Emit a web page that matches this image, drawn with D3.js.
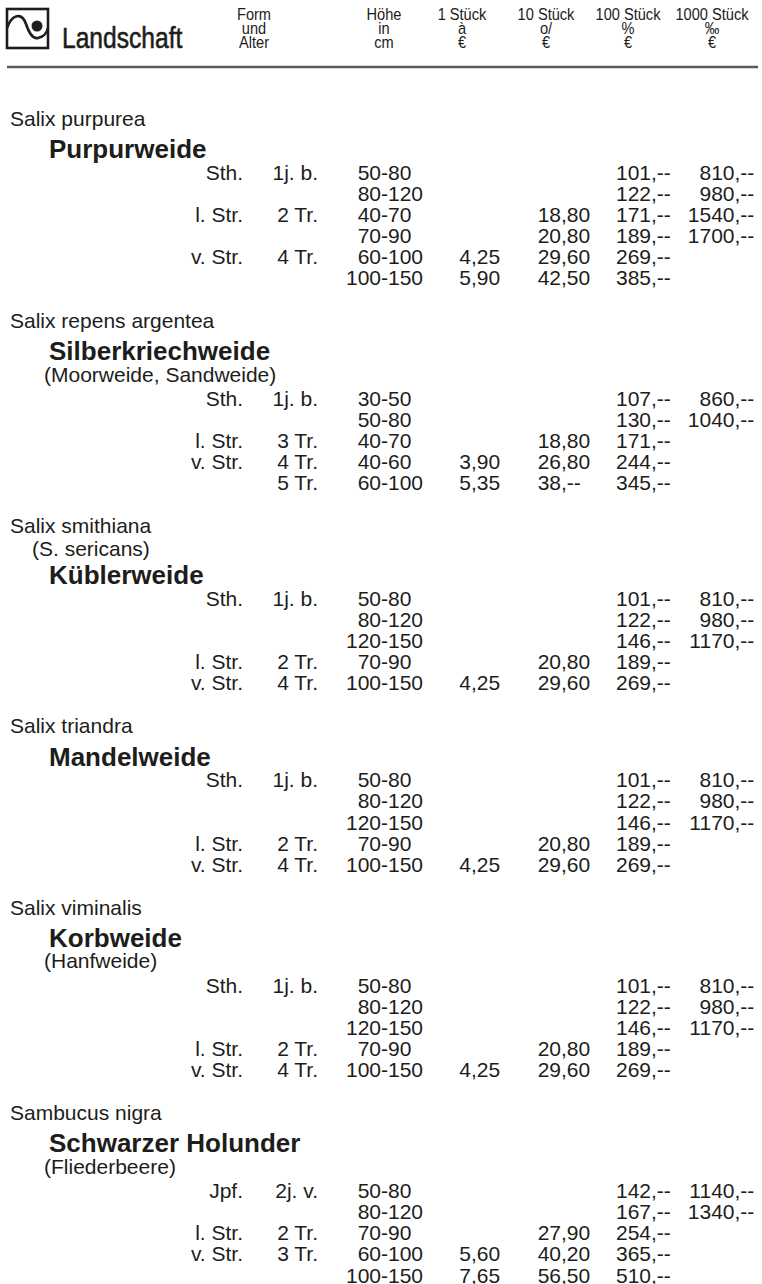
<!DOCTYPE html>
<html>
<head>
<meta charset="utf-8">
<title>Landschaft - Preisliste</title>
<script src="https://cdn.jsdelivr.net/npm/d3@7"></script>
<style>
  body { margin: 0; background: #ffffff; }
  svg text { fill: #1d1d1b; font-family: "Liberation Sans", Arial, Helvetica, sans-serif; }
</style>
</head>
<body>
<script>

// header texts
var headerTitle = "Landschaft";
var headerColumns = [
  ["Form", "und", "Alter"],
  ["Höhe", "in", "cm"],
  ["1 Stück", "à", "€"],
  ["10 Stück", "o/", "€"],
  ["100 Stück", "%", "€"],
  ["1000 Stück", "‰", "€"]
];

// plant names per section
var sciNames = ["Salix purpurea", "Salix repens argentea", "Salix smithiana", "Salix triandra", "Salix viminalis", "Sambucus nigra"];
var sciSynonyms = ["", "", "(S. sericans)", "", "", ""];
var commonNames = ["Purpurweide", "Silberkriechweide", "Küblerweide", "Mandelweide", "Korbweide", "Schwarzer Holunder"];
var commonSynonyms = ["", "(Moorweide, Sandweide)", "", "", "(Hanfweide)", "(Fliederbeere)"];

// rows: form, age, height, 1 piece, 10 pieces, 100 pieces, 1000 pieces
var purpurweideRows = [
  ["Sth.", "1j. b.", "50-80", "", "", "101,--", "810,--"],
  ["", "", "80-120", "", "", "122,--", "980,--"],
  ["l. Str.", "2 Tr.", "40-70", "", "18,80", "171,--", "1540,--"],
  ["", "", "70-90", "", "20,80", "189,--", "1700,--"],
  ["v. Str.", "4 Tr.", "60-100", "4,25", "29,60", "269,--", ""],
  ["", "", "100-150", "5,90", "42,50", "385,--", ""]
];
var silberRows = [
  ["Sth.", "1j. b.", "30-50", "", "", "107,--", "860,--"],
  ["", "", "50-80", "", "", "130,--", "1040,--"],
  ["l. Str.", "3 Tr.", "40-70", "", "18,80", "171,--", ""],
  ["v. Str.", "4 Tr.", "40-60", "3,90", "26,80", "244,--", ""],
  ["", "5 Tr.", "60-100", "5,35", "38,--", "345,--", ""]
];
var kueblerRows = [
  ["Sth.", "1j. b.", "50-80", "", "", "101,--", "810,--"],
  ["", "", "80-120", "", "", "122,--", "980,--"],
  ["", "", "120-150", "", "", "146,--", "1170,--"],
  ["l. Str.", "2 Tr.", "70-90", "", "20,80", "189,--", ""],
  ["v. Str.", "4 Tr.", "100-150", "4,25", "29,60", "269,--", ""]
];
var mandelRows = [
  ["Sth.", "1j. b.", "50-80", "", "", "101,--", "810,--"],
  ["", "", "80-120", "", "", "122,--", "980,--"],
  ["", "", "120-150", "", "", "146,--", "1170,--"],
  ["l. Str.", "2 Tr.", "70-90", "", "20,80", "189,--", ""],
  ["v. Str.", "4 Tr.", "100-150", "4,25", "29,60", "269,--", ""]
];
var korbRows = [
  ["Sth.", "1j. b.", "50-80", "", "", "101,--", "810,--"],
  ["", "", "80-120", "", "", "122,--", "980,--"],
  ["", "", "120-150", "", "", "146,--", "1170,--"],
  ["l. Str.", "2 Tr.", "70-90", "", "20,80", "189,--", ""],
  ["v. Str.", "4 Tr.", "100-150", "4,25", "29,60", "269,--", ""]
];
var holunderRows = [
  ["Jpf.", "2j. v.", "50-80", "", "", "142,--", "1140,--"],
  ["", "", "80-120", "", "", "167,--", "1340,--"],
  ["l. Str.", "2 Tr.", "70-90", "", "27,90", "254,--", ""],
  ["v. Str.", "3 Tr.", "60-100", "5,60", "40,20", "365,--", ""],
  ["", "", "100-150", "7,65", "56,50", "510,--", ""]
];
var sectionRows = [purpurweideRows, silberRows, kueblerRows, mandelRows, korbRows, holunderRows];

var width = 762;
var height = 1284;

var svg = d3.select("body")
            .append("svg")
            .attr("width", width)
            .attr("height", height);

// column anchors: the first two are right aligned, the others align on "-" or ","
var columnKeys = ["form", "age", "height", "p1", "p10", "p100", "p1000"];
var xColumn = d3.scaleOrdinal()
                .domain(columnKeys)
                .range([243, 318, 381, 471, 561, 651, 734.5]);

var xHeader = d3.scaleOrdinal()
                .domain(d3.range(headerColumns.length))
                .range([254, 384, 462, 546, 628, 712]);

drawHeader();
drawSections();

function drawHeader(){

  // logo: square with a wave and a dot
  var logo = svg.append("g")
                .attr("transform", "translate(7,9)");

  logo.append("rect")
      .attr("x", 0)
      .attr("y", 0)
      .attr("width", 41)
      .attr("height", 39)
      .attr("fill", "none")
      .attr("stroke", "#1d1d1b")
      .attr("stroke-width", 2.6);

  logo.append("path")
      .attr("d", "M0,19 C5,5 15,3 19,15 C23,27 27,30 31,29 C36,28 40,24 41,19")
      .attr("fill", "none")
      .attr("stroke", "#1d1d1b")
      .attr("stroke-width", 2.6);

  logo.append("circle")
      .attr("cx", 30)
      .attr("cy", 17)
      .attr("r", 5.5)
      .attr("fill", "#1d1d1b");

  // condensed look: squeeze the normal face horizontally
  svg.append("text")
     .attr("transform", "translate(62,48) scale(0.82,1)")
     .attr("font-size", 30)
     .attr("stroke", "#1d1d1b")
     .attr("stroke-width", 0.6)
     .text(headerTitle);

  // three stacked lines per column
  var cols = svg.selectAll(".headcol")
                .data(headerColumns)
                .enter()
                .append("g")
                .attr("class", "headcol");

  cols.selectAll("text")
      .data(function(d, i) { return d.map(function(t) { return {t: t, col: i}; }); })
      .enter()
      .append("text")
      .attr("transform", function(d, i) {
        return "translate(" + xHeader(d.col) + "," + (20 + i * 14) + ") scale(0.86,1)";
      })
      .attr("text-anchor", "middle")
      .attr("font-size", 17)
      .text(function(d) { return d.t; });

  svg.append("line")
     .attr("x1", 7)
     .attr("x2", 758)
     .attr("y1", 67)
     .attr("y2", 67)
     .attr("stroke", "#5a5a5a")
     .attr("stroke-width", 2.5);
}

function drawSections(){

  // vertical spacing between the different kinds of lines
  var rowStep = 21.1;
  var y = 118;

  for (var s = 0; s < sciNames.length; s++){

    addLine(sciNames[s], 10, y, 21, "normal");

    if (sciSynonyms[s] != ""){
      y += 23;
      addLine(sciSynonyms[s], 32, y, 21, "normal");
      y += 26;
    }else{
      y += 30.5;
    }

    addLine(commonNames[s], 49, y, 26, "bold");

    if (commonSynonyms[s] != ""){
      y += 23;
      addLine(commonSynonyms[s], 44, y, 21, "normal");
      y += 24.5;
    }else{
      y += 23.5;
    }

    // price rows
    var rows = sectionRows[s];
    for (var r = 0; r < rows.length; r++){
      addRow(rows[r], y);
      if (r < rows.length - 1){
        y += rowStep;
      }
    }
    y += 43;
  }
}

function addLine(label, x, yCenter, size, weight){
  svg.append("text")
     .attr("x", x)
     .attr("y", yCenter + size * 0.36)
     .attr("font-size", size)
     .attr("font-weight", weight)
     .text(label);
}

function addRow(row, yCenter){
  var baseline = yCenter + 21 * 0.36;

  row.forEach(function(value, j){
    if (value == ""){
      return;
    }
    var x = xColumn(columnKeys[j]);

    if (j < 2){
      svg.append("text")
         .attr("x", x)
         .attr("y", baseline)
         .attr("font-size", 21)
         .attr("text-anchor", "end")
         .text(value);
      return;
    }

    // split at the separator so that columns line up
    var sep = (j == 2) ? "-" : ",";
    var pos = value.indexOf(sep);

    svg.append("text")
       .attr("x", x)
       .attr("y", baseline)
       .attr("font-size", 21)
       .attr("text-anchor", "end")
       .text(value.slice(0, pos));

    svg.append("text")
       .attr("x", x)
       .attr("y", baseline)
       .attr("font-size", 21)
       .attr("text-anchor", "start")
       .text(value.slice(pos));
  });
}

</script>
</body>
</html>
